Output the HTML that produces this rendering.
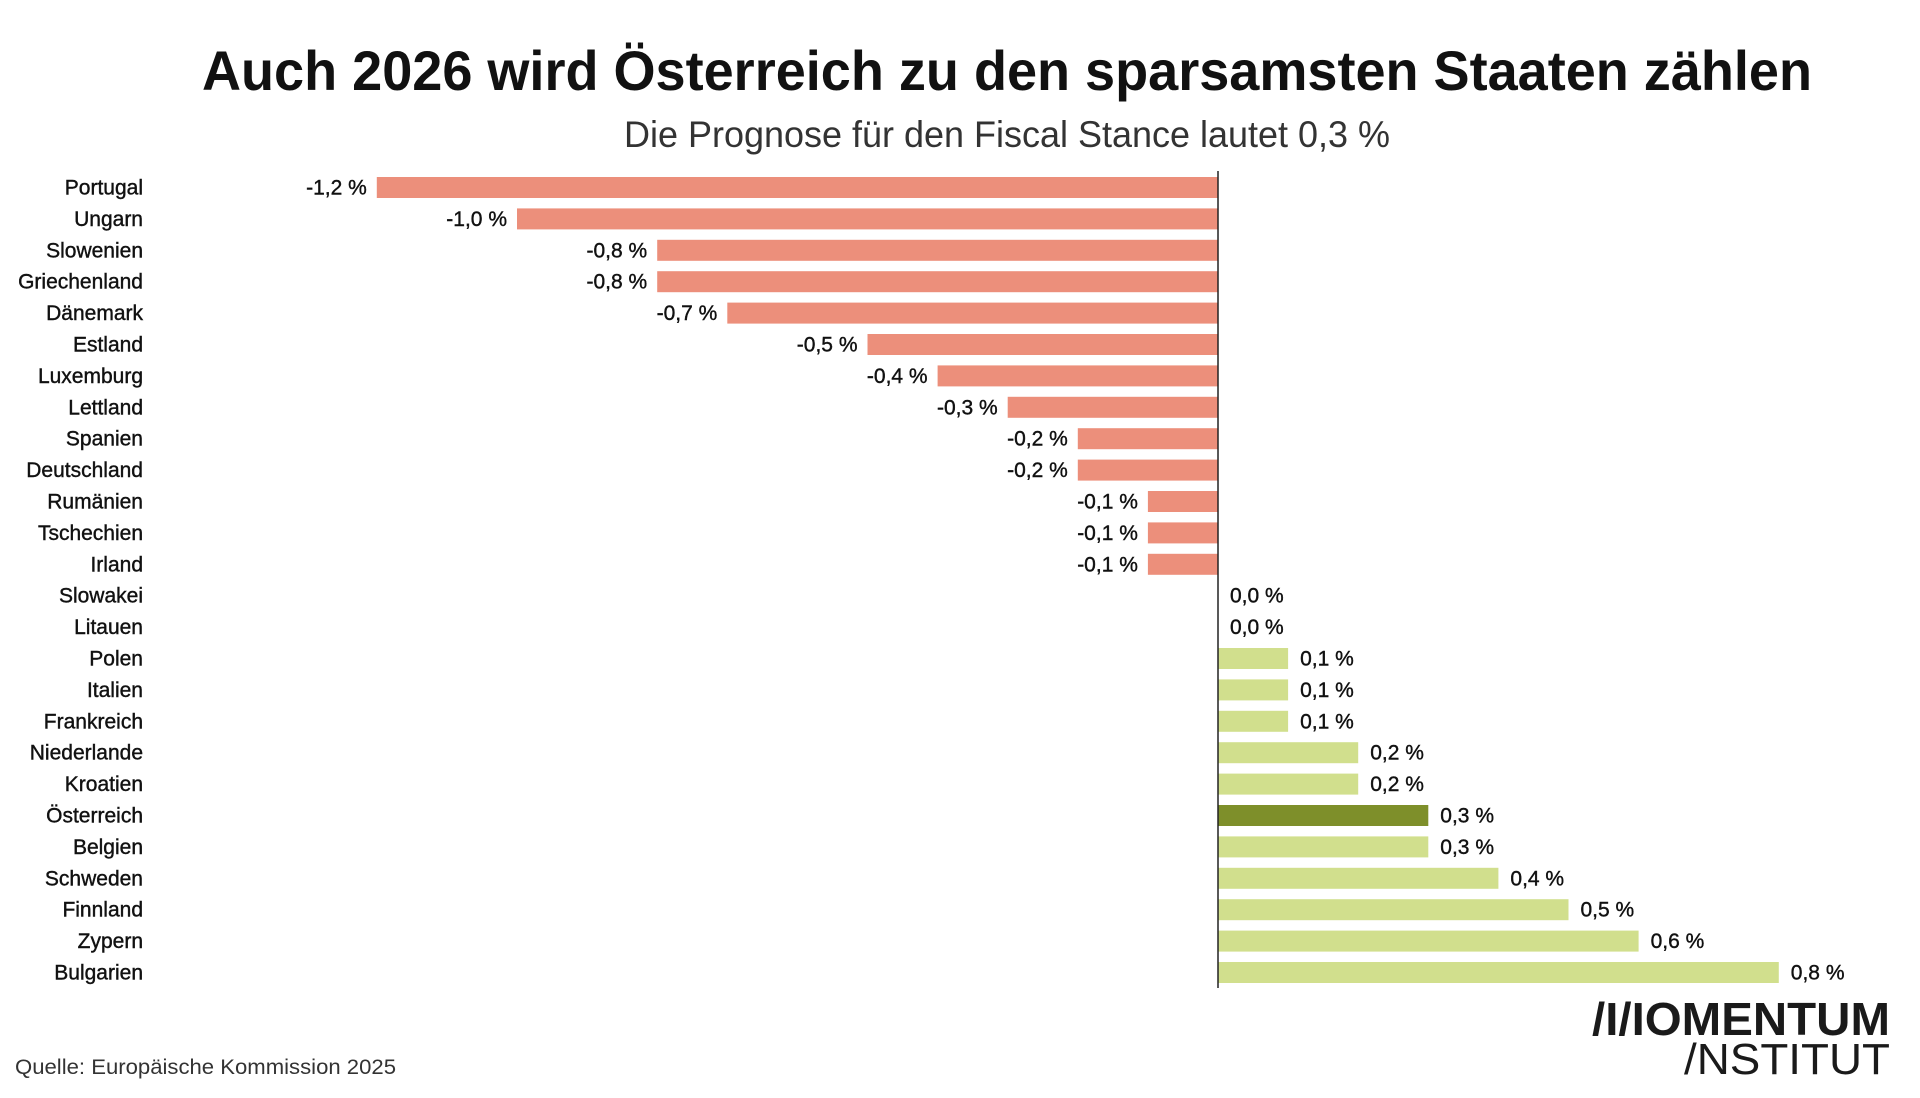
<!DOCTYPE html>
<html><head><meta charset="utf-8"><style>
html,body{margin:0;padding:0;background:#fff;}
svg{display:block;font-family:"Liberation Sans",sans-serif;}
</style></head><body>
<svg id="chart" width="1920" height="1098" viewBox="0 0 1920 1098">
<text x="1007" y="90" text-anchor="middle" font-size="56" font-weight="bold" fill="#111" textLength="1610" lengthAdjust="spacingAndGlyphs">Auch 2026 wird Österreich zu den sparsamsten Staaten zählen</text>
<text x="1007" y="147" text-anchor="middle" font-size="37" fill="#333" textLength="766" lengthAdjust="spacingAndGlyphs">Die Prognose für den Fiscal Stance lautet 0,3 %</text>
<g id="bars"></g>
<line x1="1218" y1="171" x2="1218" y2="988" stroke="#222" stroke-width="1.5"/>
<text x="15" y="1074" font-size="21" fill="#333" textLength="381" lengthAdjust="spacingAndGlyphs">Quelle: Europäische Kommission 2025</text>
<text x="1890" y="1035" text-anchor="end" font-size="46" font-weight="bold" fill="#1a1a1a" textLength="298" lengthAdjust="spacingAndGlyphs">/I/IOMENTUM</text>
<text x="1890" y="1074" text-anchor="end" font-size="44" fill="#1a1a1a" textLength="206" lengthAdjust="spacingAndGlyphs">/NSTITUT</text>
</svg>
<script>
const countries = ["Portugal","Ungarn","Slowenien","Griechenland","Dänemark","Estland","Luxemburg","Lettland","Spanien","Deutschland","Rumänien","Tschechien","Irland","Slowakei","Litauen","Polen","Italien","Frankreich","Niederlande","Kroatien","Österreich","Belgien","Schweden","Finnland","Zypern","Bulgarien"];
const values = [-1.2,-1.0,-0.8,-0.8,-0.7,-0.5,-0.4,-0.3,-0.2,-0.2,-0.1,-0.1,-0.1,0.0,0.0,0.1,0.1,0.1,0.2,0.2,0.3,0.3,0.4,0.5,0.6,0.8];
const highlight = "Österreich";

const NS = "http://www.w3.org/2000/svg";
const x0 = 1218, pxPerUnit = 701;
const y0 = 187.5, pitch = 31.4, barH = 21;
function xScale(v){ return x0 + v * pxPerUnit; }
function yScale(i){ return y0 + i * pitch; }
function fmt(v){ return v.toFixed(1).replace(".", ",").replace("-", "-") + " %"; }
const g = document.getElementById("bars");
countries.forEach((c, i) => {
  const v = values[i], y = yScale(i);
  const lab = document.createElementNS(NS, "text");
  lab.setAttribute("x", 143); lab.setAttribute("y", y + 7);
  lab.setAttribute("text-anchor", "end"); lab.setAttribute("font-size", "21");
  lab.setAttribute("fill", "#111"); lab.setAttribute("stroke", "#111"); lab.setAttribute("stroke-width", "0.4");
  lab.textContent = c;
  
  
  g.appendChild(lab);
  const xa = Math.min(xScale(v), x0), w = Math.abs(xScale(v) - x0);
  if (w > 0) {
    const r = document.createElementNS(NS, "rect");
    r.setAttribute("x", xa); r.setAttribute("y", y - barH / 2);
    r.setAttribute("width", w); r.setAttribute("height", barH);
    r.setAttribute("fill", c === highlight ? "#7E8F2A" : (v < 0 ? "#EC8F7B" : "#D1DF8D"));
    
    
    g.appendChild(r);
  }
  const t = document.createElementNS(NS, "text");
  if (v < 0) { t.setAttribute("x", xScale(v) - 10); t.setAttribute("text-anchor", "end"); }
  else { t.setAttribute("x", Math.max(xScale(v), x0) + 12); }
  t.setAttribute("y", y + 7); t.setAttribute("font-size", "21");
  t.setAttribute("fill", "#111"); t.setAttribute("stroke", "#111"); t.setAttribute("stroke-width", "0.4");
  t.textContent = fmt(v);
  
  
  g.appendChild(t);
});
</script>
</body></html>
